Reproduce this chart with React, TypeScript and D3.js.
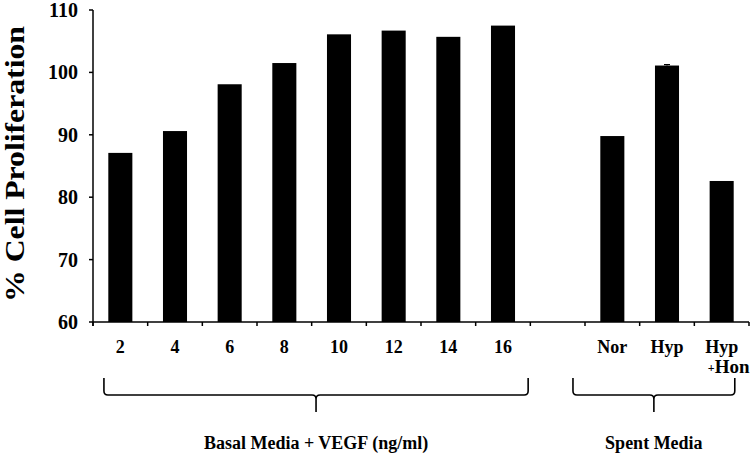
import React from "react";
import * as d3 from "d3";

const categories = ["2", "4", "6", "8", "10", "12", "14", "16", "gap", "Nor", "Hyp", "Hyp+Hon"];
const values: (number | null)[] = [87.1, 90.6, 98.1, 101.5, 106.1, 106.7, 105.7, 107.5, null, 89.8, 101.1, 82.6];
const errors: number[] = [0, 0, 0, 0, 0, 0, 0, 0, 0, 0, 0.15, 0];
const yTicks = [60, 70, 80, 90, 100, 110];
const groupLabels = ["Basal Media + VEGF (ng/ml)", "Spent Media"];
const groupSpans = [[0.2, 7.96], [8.78, 11.74]];

const W = 755, H = 459;
const left = 93, right = 749, top = 10, bottom = 322;
const FONT = "'Liberation Serif', 'Times New Roman', serif";

export default function App() {
  const x = d3.scaleBand<string>().domain(categories).range([left, right]).padding(0);
  const slot = d3.scaleLinear().domain([0, categories.length]).range([left, right]);
  const y = d3.scaleLinear().domain([60, 110]).range([bottom, top]);
  const bw = x.step() * 0.44;

  const braceTop = 378, braceMid = 395, braceTip = 412, r = 4;
  const bracePath = (x0: number, x1: number) => {
    const xc = (x0 + x1) / 2;
    const p = d3.path();
    p.moveTo(x0, braceTop);
    p.lineTo(x0, braceMid - r);
    p.quadraticCurveTo(x0, braceMid, x0 + r, braceMid);
    p.lineTo(xc - r, braceMid);
    p.quadraticCurveTo(xc, braceMid, xc, braceMid + r);
    p.lineTo(xc, braceTip);
    p.moveTo(xc, braceMid + r);
    p.quadraticCurveTo(xc, braceMid, xc + r, braceMid);
    p.lineTo(x1 - r, braceMid);
    p.quadraticCurveTo(x1, braceMid, x1, braceMid - r);
    p.lineTo(x1, braceTop);
    return p.toString();
  };

  return (
    <svg width={W} height={H} style={{ position: "absolute", left: 0, top: 0, background: "#fff" }}
      fontFamily={FONT} fontWeight="bold">
      {/* bars */}
      {categories.map((c, i) => {
        const v = values[i];
        if (v == null) return null;
        const cx = (x(c) as number) + x.bandwidth() / 2;
        const e = errors[i];
        return (
          <g key={c}>
            <rect x={cx - bw / 2} y={y(v)} width={bw} height={y(60) - y(v)} fill="#000" />
            {e > 0 && (
              <g stroke="#000" strokeWidth={1.2}>
                <line x1={cx} x2={cx} y1={y(v)} y2={y(v + e)} />
                <line x1={cx - 3} x2={cx + 3} y1={y(v + e)} y2={y(v + e)} />
              </g>
            )}
          </g>
        );
      })}
      {/* y axis */}
      <line x1={left} x2={left} y1={y(110)} y2={y(60) + 4} stroke="#000" strokeWidth={1.5} />
      {yTicks.map((t) => (
        <g key={t}>
          <line x1={left - 4} x2={left} y1={y(t)} y2={y(t)} stroke="#000" strokeWidth={1.5} />
          <text x={left - 15} y={y(t)} dy="0.35em" textAnchor="end" fontSize={20}>{t}</text>
        </g>
      ))}
      {/* x axis */}
      <line x1={left} x2={right} y1={y(60)} y2={y(60)} stroke="#000" strokeWidth={1.5} />
      {d3.range(categories.length + 1).map((i) => (
        <line key={i} x1={slot(i)} x2={slot(i)} y1={y(60)} y2={y(60) + 4} stroke="#000" strokeWidth={1.5} />
      ))}
      {categories.map((c) => {
        if (c === "gap") return null;
        const cx = (x(c) as number) + x.bandwidth() / 2;
        if (c === "Hyp+Hon") {
          return (
            <g key={c}>
              <text x={cx} y={353} textAnchor="middle" fontSize={18}>Hyp</text>
              <text x={cx - 14} y={372} textAnchor="start" fontSize={12}>+</text>
              <text x={cx - 7} y={373} textAnchor="start" fontSize={19}>Hon</text>
            </g>
          );
        }
        return <text key={c} x={cx} y={353} textAnchor="middle" fontSize={18}>{c}</text>;
      })}
      {/* y title */}
      <text transform={`translate(24, 164) rotate(-90)`} textAnchor="middle" fontSize={27}
        textLength={276} lengthAdjust="spacingAndGlyphs">% Cell Proliferation</text>
      {/* braces and group labels */}
      {groupLabels.map((g, i) => {
        const x0 = slot(groupSpans[i][0]);
        const x1 = slot(groupSpans[i][1]);
        return (
          <g key={g}>
            <path d={bracePath(x0, x1)} fill="none" stroke="#000" strokeWidth={1.6} />
            <text x={(x0 + x1) / 2} y={449} textAnchor="middle" fontSize={18}>{g}</text>
          </g>
        );
      })}
    </svg>
  );
}
